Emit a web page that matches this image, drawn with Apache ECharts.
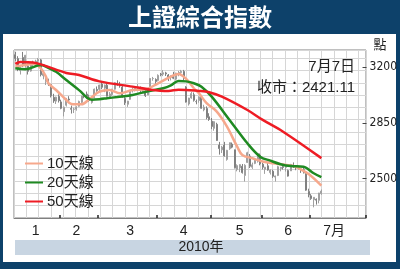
<!DOCTYPE html>
<html><head><meta charset="utf-8">
<script src="https://cdn.jsdelivr.net/npm/echarts@6/dist/echarts.min.js"></script>
<style>html,body{margin:0;padding:0;background:#fff}#c{width:400px;height:269px}</style>
</head><body><div id="c"></div>
<script>
// trading days (Jan 6 - Jul 7 2010) followed by the rest of July as empty slots
const dates = ['01-06','01-07','01-08','01-11','01-12','01-13','01-14','01-15','01-18','01-19','01-20','01-21','01-22','01-25','01-26','01-27','01-28','01-29',
'02-01','02-02','02-03','02-04','02-05','02-08','02-09','02-10','02-11','02-12','02-22','02-23','02-24','02-25','02-26',
'03-01','03-02','03-03','03-04','03-05','03-08','03-09','03-10','03-11','03-12','03-15','03-16','03-17','03-18','03-19','03-22','03-23','03-24','03-25','03-26','03-29','03-30','03-31',
'04-01','04-02','04-06','04-07','04-08','04-09','04-12','04-13','04-14','04-15','04-16','04-19','04-20','04-21','04-22','04-23','04-26','04-27','04-28','04-29','04-30',
'05-04','05-05','05-06','05-07','05-10','05-11','05-12','05-13','05-14','05-17','05-18','05-19','05-20','05-21','05-24','05-25','05-26','05-27','05-28','05-31',
'06-01','06-02','06-03','06-04','06-07','06-08','06-09','06-10','06-11','06-17','06-18','06-21','06-22','06-23','06-24','06-25','06-28','06-29','06-30',
'07-01','07-02','07-05','07-06','07-07','07-08','07-09','07-12','07-13','07-14','07-15','07-16','07-19','07-20','07-21','07-22','07-23','07-26','07-27','07-28','07-29','07-30'];

const candleOpen = [3277,3253,3177,3260,3211,3207,3175,3219,3222,3238,3245,3146,3110,3120,3090,3010,2986,3016,
2981,2920,2960,2999,2940,2935,2936,2954,2978,3027,3030,3011,2978,3008,3059,
3060,3093,3067,3086,3008,3028,3061,3098,3091,3074,3003,2966,2997,3054,3060,3073,3064,3054,3041,3025,3066,3128,3122,
3116,3156,3155,3163,3150,3136,3148,3124,3163,3165,3172,3075,2968,3006,3026,2983,2990,3010,2931,2940,2888,
2860,2815,2840,2710,2680,2710,2620,2687,2716,2680,2556,2567,2577,2519,2601,2641,2571,2595,2609,2647,
2590,2558,2580,2537,2546,2509,2519,2563,2575,2570,2550,2548,2582,2570,2571,2560,2555,2532,2418,
2391,2367,2370,2363,2405];
const candleClose = [3254,3193,3196,3213,3274,3173,3216,3224,3237,3247,3152,3159,3129,3094,3019,2987,3011,2989,
2941,2948,3002,2993,2935,2936,2948,2984,3018,3018,3017,2990,3000,3061,3052,
3087,3073,3087,3017,3031,3061,3102,3089,3081,3013,2976,2986,3050,3060,3067,3074,3054,3057,3020,3053,3128,3128,3109,
3148,3152,3164,3157,3135,3142,3130,3162,3166,3173,3130,2980,3005,3033,2991,2983,3013,2941,2948,2883,2871,
2827,2857,2739,2688,2697,2642,2677,2725,2697,2568,2581,2587,2537,2583,2662,2577,2586,2616,2656,2592,
2571,2571,2553,2553,2514,2516,2574,2570,2569,2573,2515,2588,2582,2569,2569,2552,2535,2427,2398,
2374,2382,2364,2409,2421];
const candleLow = [3235,3174,3153,3200,3195,3153,3171,3204,3206,3225,3141,3123,3087,3082,3009,2975,2968,2977,
2935,2890,2952,2979,2908,2911,2926,2951,2971,3004,3000,2982,2970,3004,3045,
3045,3061,3042,3015,3000,3019,3058,3082,3070,3008,2962,2950,2994,3040,3047,3055,3041,3040,3012,3025,3062,3114,3093,
3110,3142,3143,3144,3112,3116,3124,3116,3142,3151,3114,2977,2958,3001,2983,2966,2976,2938,2922,2872,2862,
2810,2800,2737,2650,2660,2638,2612,2680,2690,2563,2545,2540,2531,2481,2598,2566,2560,2590,2600,2583,
2557,2529,2549,2525,2504,2481,2515,2545,2556,2544,2512,2547,2566,2552,2557,2535,2532,2423,2382,
2366,2319,2336,2344,2398];
const candleHigh = [3296,3268,3198,3295,3276,3222,3217,3240,3246,3257,3251,3181,3149,3127,3093,3032,3014,3029,
2995,2952,3006,3017,2958,2945,2954,2989,3019,3037,3046,3026,3006,3065,3078,
3089,3113,3090,3096,3043,3063,3104,3117,3107,3085,3011,2988,3050,3072,3071,3093,3078,3065,3054,3060,3130,3138,3129,
3154,3163,3181,3170,3156,3148,3170,3164,3175,3182,3182,3080,3007,3043,3040,2996,3015,3015,2963,2953,2910,
2880,2860,2850,2730,2705,2730,2680,2726,2726,2682,2589,2590,2591,2590,2668,2654,2600,2626,2660,2657,
2599,2573,2605,2557,2555,2518,2580,2573,2584,2580,2556,2592,2601,2577,2578,2562,2566,2533,2436,
2402,2383,2375,2410,2431];

const ma10Dates = ['01-06','01-12','01-15','01-20','01-22','01-25','01-28','02-03','02-05','02-11','02-23','03-01','03-05','03-11','03-18','03-25','04-01','04-09','04-14','04-19','04-22','04-26','04-29','05-06','05-12','05-18','05-20','05-26','06-01','06-07','06-11','06-22','06-24','06-30','07-07'];
const ma10Values = [3203,3213,3220,3192,3140,3098,3056,2993,2968,2966,2998,3045,3056,3035,3056,3060,3098,3140,3157,3125,3067,3035,2973,2920,2826,2700,2648,2627,2607,2596,2588,2579,2566,2528,2455];

const ma20Dates = ['01-06','01-12','01-20','01-22','01-28','02-03','02-10','02-24','03-01','03-04','03-10','03-18','03-26','04-06','04-09','04-14','04-19','04-22','04-27','05-04','05-13','05-24','05-31','06-04','06-10','06-21','06-28','07-02','07-07'];
const ma20Values = [3192,3186,3213,3203,3170,3118,3055,2995,2998,3004,3012,3025,3048,3067,3085,3113,3110,3098,3077,3014,2868,2721,2637,2612,2590,2578,2574,2533,2509];

const ma50Dates = ['01-06','01-08','01-15','01-21','02-03','02-10','03-01','03-18','03-29','04-08','04-14','04-26','04-30','05-10','05-24','06-01','06-11','07-07'];
const ma50Values = [3220,3232,3228,3212,3163,3150,3110,3077,3058,3050,3058,3050,3042,3014,2930,2868,2794,2628];

const yTickLabels = ['2500', '2850', '3200'];
const monthTickDates = ['02-01','03-01','04-01','05-04','06-01','07-01'];
const monthLabelDates = ['01-18','02-09','03-17','04-16','05-19','06-18','07-14'];
const monthLabels = ['1','2','3','4','5','6','7月'];
const seriesNames = ['10天線','20天線','50天線'];
const titleText = '上證綜合指數';
const closeDate = '7月7日';
const closeValue = '2421.11';
const yearText = '2010年';
const unitText = '點';

const F = "'Liberation Sans', Arial, 'Noto Sans CJK TC', sans-serif";
const FN = "'Liberation Sans Narrow', 'Arial Narrow', 'DejaVu Sans Condensed', 'Liberation Sans', sans-serif";

const tickSet = new Set(monthTickDates.map(d => dates.indexOf(d)));
const labelMap = {};
monthLabelDates.forEach((d, i) => { labelMap[d] = monthLabels[i]; });
const labelSet = new Set(monthLabelDates.map(d => dates.indexOf(d)));

const candleData = candleOpen.map((o, i) => [o, candleClose[i], candleLow[i], candleHigh[i]]);
const pairs = (ds, vs) => ds.map((d, i) => [d, vs[i]]);

const chart = echarts.init(document.getElementById('c'), null, {renderer: 'canvas'});
chart.setOption({
  animation: false,
  backgroundColor: '#0d416a',
  graphic: [
    {type: 'rect', z: -10, shape: {x: 3, y: 34, width: 393, height: 228}, style: {fill: '#ffffff'}},
    {type: 'rect', z: -9, shape: {x: 15, y: 240, width: 355, height: 15}, style: {fill: '#c8d5e2'}},
    {type: 'text', x: 200, y: 17, style: {text: titleText, align: 'center', verticalAlign: 'middle', fill: '#ffffff', fontSize: 24, fontWeight: 'bold', fontFamily: "'Noto Sans CJK TC', sans-serif"}},
    {type: 'text', x: 201, y: 247.5, style: {text: yearText, align: 'center', verticalAlign: 'middle', fill: '#222', fontSize: 14, fontFamily: F}},
    {type: 'text', x: 380, y: 45, style: {text: unitText, align: 'center', verticalAlign: 'middle', fill: '#222', fontSize: 13, fontFamily: F}},
    {type: 'text', x: 355, y: 67, z: 10, style: {text: closeDate, align: 'right', verticalAlign: 'middle', fill: '#222', fontSize: 15, fontFamily: F}},
    {type: 'text', x: 355, y: 88, z: 10, style: {text: '收市：' + closeValue, align: 'right', verticalAlign: 'middle', fill: '#222', fontSize: 15, fontFamily: F}}
  ],
  grid: [
    {left: 14, top: 50, width: 352, height: 168, show: true, backgroundColor: '#fff', borderColor: '#808080', borderWidth: 1},
    {left: 14, top: 67.1, width: 352, height: 111.4, show: false}
  ],
  legend: {
    orient: 'vertical', left: 25, top: 156, padding: 0, itemGap: 4, itemWidth: 18, itemHeight: 2, icon: 'rect',
    data: seriesNames, textStyle: {fontSize: 15, color: '#222', fontFamily: F, padding: [0,0,0,-1]}
  },
  xAxis: [
    {type: 'category', data: dates, boundaryGap: true, gridIndex: 0,
     axisLine: {show: true, onZero: false, lineStyle: {color: '#808080'}},
     axisTick: {show: true, inside: true, length: 3, interval: (i) => tickSet.has(i), lineStyle: {color: '#222', width: 1.5}},
     axisLabel: {interval: (i) => labelSet.has(i), formatter: (v) => labelMap[v] || '', fontSize: 14, color: '#222', margin: 6, fontFamily: F},
     splitLine: {show: false}},
    {type: 'value', min: 0, max: 28.6, interval: 1, gridIndex: 0, position: 'top',
     axisLine: {show: false, onZero: false}, axisTick: {show: false}, axisLabel: {show: false},
     splitLine: {show: true, lineStyle: {color: '#d6d6d6', width: 1}}},
    {type: 'value', gridIndex: 1, show: false, axisLine: {onZero: false}}
  ],
  yAxis: [
    {type: 'value', position: 'right', min: 2252, max: 3307, gridIndex: 0,
     axisLine: {show: false, onZero: false}, axisTick: {show: false}, axisLabel: {show: false}, splitLine: {show: false}},
    {type: 'value', min: 0, max: 13.67, interval: 1, gridIndex: 0, position: 'left',
     axisLine: {show: false, onZero: false}, axisTick: {show: false}, axisLabel: {show: false},
     splitLine: {show: true, lineStyle: {color: '#d6d6d6', width: 1}}},
    {type: 'category', data: yTickLabels, gridIndex: 1, position: 'right', boundaryGap: false,
     axisLine: {show: false, onZero: false},
     axisTick: {show: true, length: 4, lineStyle: {color: '#444'}},
     axisLabel: {margin: 7, fontSize: 12, color: '#222', fontFamily: FN},
     splitLine: {show: false}}
  ],
  series: [
    {type: 'candlestick', xAxisIndex: 0, yAxisIndex: 0, data: candleData, barWidth: 1.5,
     itemStyle: {color: '#b0b0b0', color0: '#8a8a8a', borderColor: '#a0a0a0', borderColor0: '#808080', borderWidth: 1}},
    {name: seriesNames[0], type: 'line', xAxisIndex: 0, yAxisIndex: 0, data: pairs(ma10Dates, ma10Values), smooth: 0.35, showSymbol: false, symbol: 'none',
     lineStyle: {color: '#f6a88c', width: 2.5}, itemStyle: {color: '#f6a88c'}},
    {name: seriesNames[1], type: 'line', xAxisIndex: 0, yAxisIndex: 0, data: pairs(ma20Dates, ma20Values), smooth: 0.35, showSymbol: false, symbol: 'none',
     lineStyle: {color: '#1f8a22', width: 2.5}, itemStyle: {color: '#1f8a22'}},
    {name: seriesNames[2], type: 'line', xAxisIndex: 0, yAxisIndex: 0, data: pairs(ma50Dates, ma50Values), smooth: 0.35, showSymbol: false, symbol: 'none',
     lineStyle: {color: '#ee1c24', width: 2.5}, itemStyle: {color: '#ee1c24'}}
  ]
});
</script></body></html>
